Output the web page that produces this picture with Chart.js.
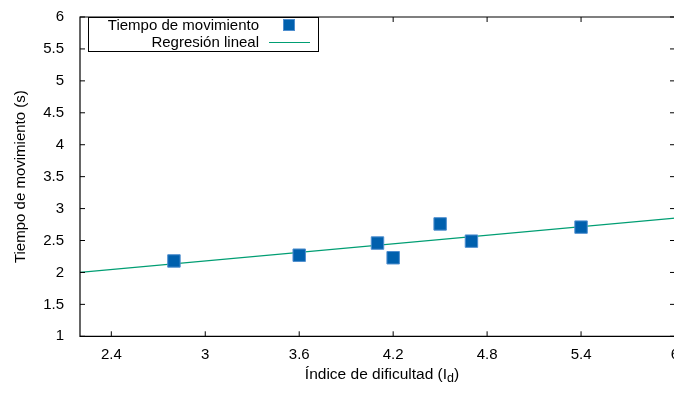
<!DOCTYPE html>
<html>
<head>
<meta charset="utf-8">
<script src="https://cdn.jsdelivr.net/npm/chart.js@4.4.1/dist/chart.umd.min.js"></script>
<style>
  html, body { margin: 0; padding: 0; background: #fff; }
  #wrap { width: 674px; height: 394px; overflow: hidden; }
</style>
</head>
<body>
<div id="wrap"><canvas id="grafico" width="730" height="394" style="width:730px;height:394px"></canvas></div>
<script>
// datos
const indiceDificultad = [2.8, 3.6, 4.1, 4.2, 4.5, 4.7, 5.4];
const tiempoMovimiento = [2.18, 2.27, 2.46, 2.23, 2.76, 2.49, 2.71];
const regresionX = [2.2, 6];
const regresionY = [2.0, 2.85];
const ticksX = [2.4, 3, 3.6, 4.2, 4.8, 5.4, 6];
const ticksY = [1, 1.5, 2, 2.5, 3, 3.5, 4, 4.5, 5, 5.5, 6];

const AZUL = '#0060ad';
const VERDE = '#009e73';
const FUENTE = '"Liberation Sans", Arial, sans-serif';

// marco y marcas hacia dentro, estilo gnuplot
const marcoPlugin = {
    id: 'marco',
    afterDatasetsDraw(chart) {
        const ctx = chart.ctx;
        const a = chart.chartArea;
        const sx = chart.scales.x, sy = chart.scales.y;
        const L = 5;
        ctx.save();
        ctx.strokeStyle = '#000';
        ctx.lineWidth = 1.2;
        ctx.beginPath();
        ctx.rect(a.left, a.top, a.right - a.left, a.bottom - a.top);
        ctx.stroke();
        ctx.lineWidth = 1;
        ctx.beginPath();
        ticksX.forEach(function (v) {
            const px = sx.getPixelForValue(v);
            ctx.moveTo(px, a.bottom); ctx.lineTo(px, a.bottom - L);
            ctx.moveTo(px, a.top); ctx.lineTo(px, a.top + L);
        });
        ticksY.forEach(function (v) {
            const py = sy.getPixelForValue(v);
            ctx.moveTo(a.left, py); ctx.lineTo(a.left + L, py);
            ctx.moveTo(a.right, py); ctx.lineTo(a.right - L, py);
        });
        ctx.stroke();
        ctx.restore();
    }
};

// leyenda con el texto alineado a la derecha, como gnuplot
const leyendaPlugin = {
    id: 'leyenda',
    afterDraw(chart) {
        const ctx = chart.ctx;
        const ds = chart.data.datasets;
        ctx.save();
        ctx.fillStyle = '#fff';
        ctx.fillRect(88, 17, 230, 34);
        ctx.strokeStyle = '#000';
        ctx.lineWidth = 1;
        ctx.strokeRect(88.5, 17.5, 230, 34);
        ctx.font = '15px ' + FUENTE;
        ctx.fillStyle = '#000';
        ctx.textAlign = 'right';
        ctx.textBaseline = 'middle';
        ctx.fillText(ds[0].label, 259, 26);
        ctx.fillText(ds[1].label, 259, 43);
        ctx.fillStyle = AZUL;
        ctx.strokeStyle = '#4f8fcf';
        ctx.fillRect(283, 19, 12, 12);
        ctx.strokeRect(283.5, 19.5, 11, 11);
        ctx.strokeStyle = VERDE;
        ctx.beginPath();
        ctx.moveTo(269, 42.5);
        ctx.lineTo(310, 42.5);
        ctx.stroke();
        ctx.restore();
    }
};

// titulo del eje x con subindice
const tituloXPlugin = {
    id: 'tituloX',
    afterDraw(chart) {
        const ctx = chart.ctx;
        const t1 = 'Índice de dificultad (I', t2 = 'd', t3 = ')';
        ctx.save();
        ctx.fillStyle = '#000';
        ctx.textBaseline = 'alphabetic';
        ctx.textAlign = 'left';
        ctx.font = '15.5px ' + FUENTE;
        const w1 = ctx.measureText(t1).width, w3 = ctx.measureText(t3).width;
        ctx.font = '12.5px ' + FUENTE;
        const w2 = ctx.measureText(t2).width;
        let x = 382 - (w1 + w2 + w3) / 2;
        const y = 379;
        ctx.font = '15.5px ' + FUENTE;
        ctx.fillText(t1, x, y);
        x += w1;
        ctx.font = '12.5px ' + FUENTE;
        ctx.fillText(t2, x, y + 3);
        x += w2;
        ctx.font = '15.5px ' + FUENTE;
        ctx.fillText(t3, x, y);
        ctx.restore();
    }
};

const ctx = document.getElementById('grafico').getContext('2d');
const grafico = new Chart(ctx, {
    type: 'scatter',
    data: {
        datasets: [{
            label: 'Tiempo de movimiento',
            data: indiceDificultad.map(function (x, i) { return { x: x, y: tiempoMovimiento[i] }; }),
            pointStyle: 'rect',
            pointRadius: 8.8,
            backgroundColor: AZUL,
            borderColor: '#4f8fcf',
            borderWidth: 1,
            order: 1
        }, {
            label: 'Regresión lineal',
            type: 'line',
            data: regresionX.map(function (x, i) { return { x: x, y: regresionY[i] }; }),
            borderColor: VERDE,
            borderWidth: 1.2,
            pointRadius: 0,
            fill: false,
            order: 2
        }]
    },
    options: {
        responsive: false,
        animation: false,
        layout: { padding: { top: 10, right: 55, bottom: 0, left: 0 } },
        plugins: {
            legend: { display: false },
            tooltip: { enabled: false }
        },
        scales: {
            x: {
                type: 'linear',
                min: 2.2,
                max: 6,
                afterBuildTicks: function (s) { s.ticks = ticksX.map(function (v) { return { value: v }; }); },
                afterFit: function (s) { s.height = 57.7; },
                grid: { display: false },
                border: { display: false },
                ticks: {
                    color: '#000',
                    padding: 2,
                    maxRotation: 0,
                    font: { family: FUENTE, size: 15 },
                    callback: function (v) { return String(v); }
                }
            },
            y: {
                type: 'linear',
                min: 1,
                max: 6,
                afterBuildTicks: function (s) { s.ticks = ticksY.map(function (v) { return { value: v }; }); },
                afterFit: function (s) { s.width = 80; },
                grid: { display: false },
                border: { display: false },
                title: {
                    display: true,
                    text: 'Tiempo de movimiento (s)',
                    color: '#000',
                    font: { family: FUENTE, size: 15 },
                    padding: { top: 12, bottom: 0 }
                },
                ticks: {
                    color: '#000',
                    padding: 8,
                    font: { family: FUENTE, size: 15 },
                    callback: function (v) { return String(v); }
                }
            }
        }
    },
    plugins: [marcoPlugin, leyendaPlugin, tituloXPlugin]
});
</script>
</body>
</html>
